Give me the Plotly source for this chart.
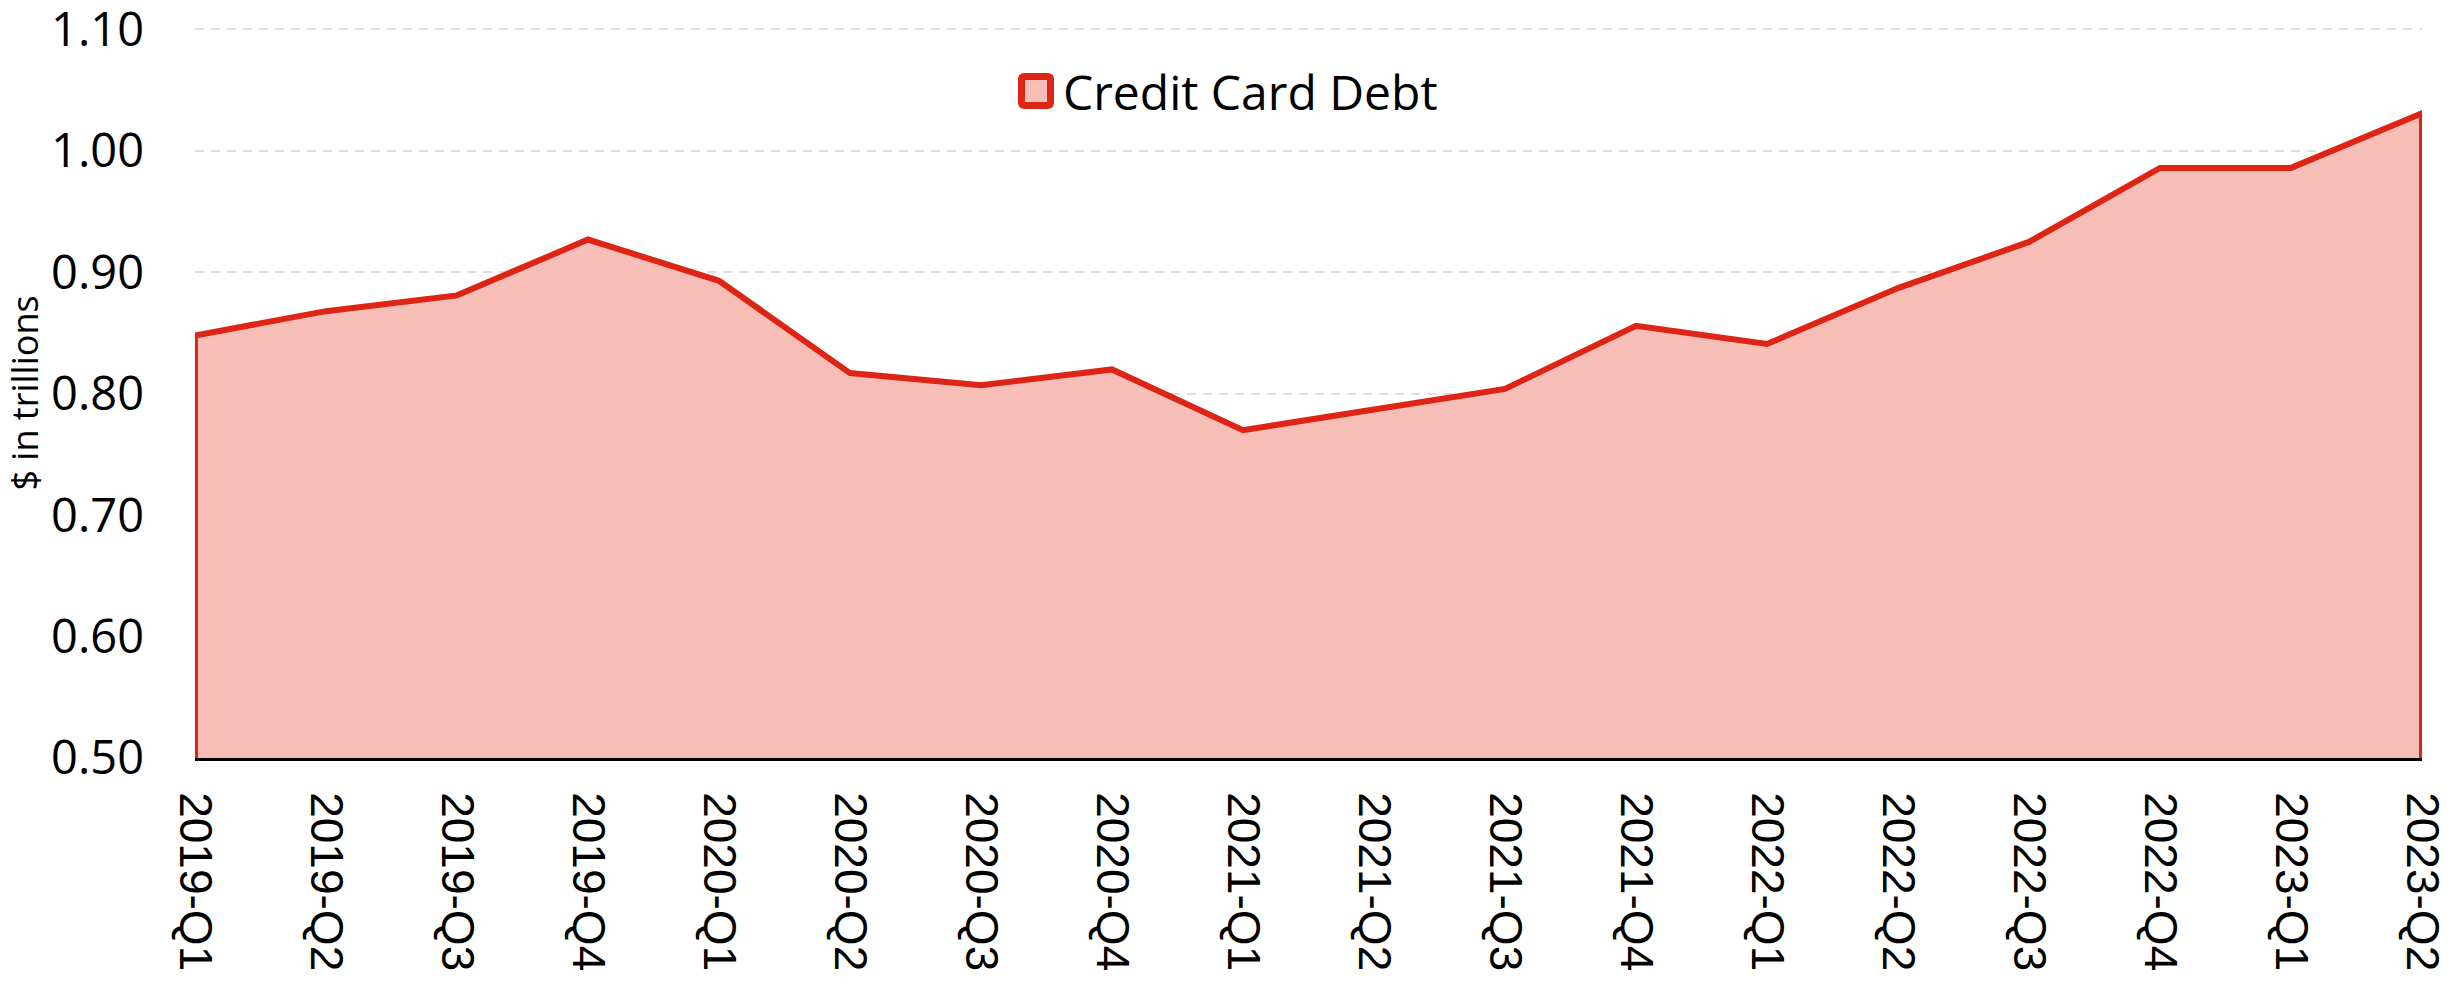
import plotly.graph_objects as go

quarters = ["2019-Q1", "2019-Q2", "2019-Q3", "2019-Q4",
            "2020-Q1", "2020-Q2", "2020-Q3", "2020-Q4",
            "2021-Q1", "2021-Q2", "2021-Q3", "2021-Q4",
            "2022-Q1", "2022-Q2", "2022-Q3", "2022-Q4",
            "2023-Q1", "2023-Q2"]
credit_card_debt = [0.848, 0.868, 0.881, 0.927,
                    0.893, 0.817, 0.807, 0.820,
                    0.770, 0.787, 0.804, 0.856,
                    0.841, 0.887, 0.925, 0.986,
                    0.986, 1.031]
series_name = "Credit Card Debt"
y_min, y_max = 0.50, 1.10
y_ticks = [0.50, 0.60, 0.70, 0.80, 0.90, 1.00, 1.10]
y_title = "$ in trillions"

LINE = "#DE2414"
FILL = "#F7BDB7"

W, H = 2456, 985
ml, mr, mt, mb = 195, 34, 28, 227
pw = W - ml - mr
ph = H - mt - mb

# closed polygon: base -> data -> base, so the outline runs around the area
xs = [quarters[0]] + quarters + [quarters[-1]]
ys = [y_min] + credit_card_debt + [y_min]

fig = go.Figure()
fig.add_trace(go.Scatter(
    x=xs, y=ys, mode="lines", fill="toself",
    fillcolor=FILL, line=dict(color=LINE, width=6),
    name=series_name, showlegend=False, hoverinfo="skip",
))

# legend drawn as a shape + text (large swatch)
lx_px = 1036  # swatch centre in page px
ly_px = 91
ax = (lx_px - ml) / pw
ay = (mt + ph - ly_px) / ph
s = 14.5
r = 3
path = (f"M{-s+r},{-s} L{s-r},{-s} Q{s},{-s} {s},{-s+r} L{s},{s-r} Q{s},{s} {s-r},{s} "
        f"L{-s+r},{s} Q{-s},{s} {-s},{s-r} L{-s},{-s+r} Q{-s},{-s} {-s+r},{-s} Z")
fig.add_shape(type="path", xref="paper", yref="paper",
              xsizemode="pixel", ysizemode="pixel", xanchor=ax, yanchor=ay,
              path=path, fillcolor=FILL, line=dict(color=LINE, width=7))
fig.add_annotation(xref="paper", yref="paper", x=(1061 - ml) / pw, y=ay,
                   xanchor="left", yanchor="middle", showarrow=False,
                   text=series_name,
                   font=dict(family="Open Sans", size=48, color="#000000"))

fig.update_layout(
    width=W, height=H,
    margin=dict(l=ml, r=mr, t=mt, b=mb, pad=0, autoexpand=False),
    paper_bgcolor="white", plot_bgcolor="white",
    showlegend=False,
    font=dict(family="Open Sans", color="#000000"),
)
fig.update_xaxes(
    type="category", range=[0, len(quarters) - 1], automargin=False,
    tickangle=90, tickfont=dict(family="Liberation Sans, Arial", size=46, color="#000"),
    showgrid=False, zeroline=False,
    showline=True, linecolor="#000000", linewidth=3,
    ticks="", ticklabelstandoff=22,
)
fig.update_yaxes(
    range=[y_min, y_max + 0.0012], tickvals=y_ticks, tickformat=".2f", automargin=False,
    tickfont=dict(family="Open Sans", size=47, color="#000"),
    ticklabeloverflow="allow",
    showgrid=True, gridcolor="#DDDDDD", gridwidth=2, griddash="9px,7px",
    zeroline=False, showline=False, ticks="", ticklabelstandoff=50,
    title=dict(text=y_title, font=dict(family="Open Sans", size=36, color="#000"), standoff=2),
)

fig.write_html("out.html", config={"displayModeBar": False},
               post_script="document.body.style.margin='0';document.body.style.overflow='hidden';")
